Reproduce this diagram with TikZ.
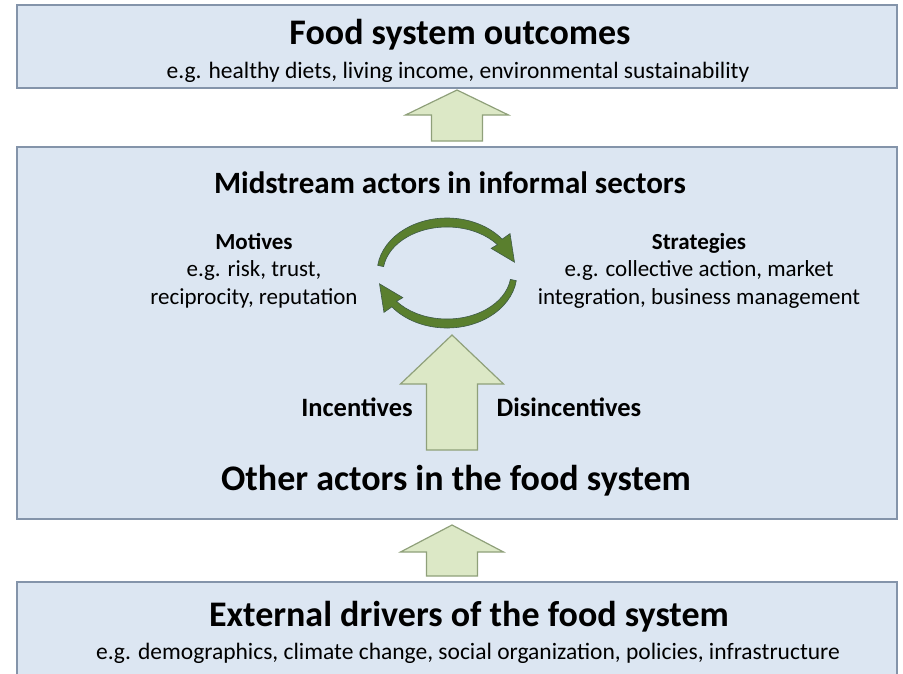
\documentclass[tikz,border=0pt]{standalone}
\usepackage{fontspec}
\setmainfont{Carlito}
\usetikzlibrary{positioning,calc}

\definecolor{panelfill}{HTML}{DCE6F2}
\definecolor{panelline}{HTML}{8494AA}
\definecolor{arrowfill}{HTML}{DCE8C6}
\definecolor{arrowline}{HTML}{8FA07A}
\definecolor{cyclefill}{HTML}{5A7F2E}
\definecolor{cycleline}{HTML}{3E5A48}

% block arrow pointing up: base point, shaft length, head length
\newcommand{\blockup}[3]{%
  \draw[bigarrow] (#1) ++(-25.5,0) -- ++(0,#2) -- ++(-26,0) -- ++(51.5,#3)
    -- ++(51.5,-#3) -- ++(-26,0) -- ++(0,-#2) -- cycle;}

\begin{document}
\begin{tikzpicture}[x=1pt,y=1pt]
    \tikzstyle{panel}=[draw=panelline,fill=panelfill,line width=1.6,rectangle,inner sep=0]
    \tikzstyle{title}=[font=\fontsize{36}{42}\selectfont\bfseries,inner sep=0,anchor=base]
    \tikzstyle{sub}=[font=\fontsize{23.5}{28}\selectfont,inner sep=0,anchor=base]
    \tikzstyle{loop}=[font=\fontsize{23}{27.5}\selectfont,inner sep=0,align=center,anchor=north]
    \tikzstyle{flow}=[font=\fontsize{26.5}{30}\selectfont\bfseries,inner sep=0,anchor=base]
    \tikzstyle{bigarrow}=[draw=arrowline,fill=arrowfill,line width=1.2,line join=miter]
    \tikzstyle{cycle}=[draw=cycleline,fill=cyclefill,line width=0.6]

    \useasboundingbox (0,0) rectangle (903,-673);

    % the three panels
    \node[panel,minimum width=880,minimum height=83] (outcomes) at (457,-46.5) {};
    \node[panel,minimum width=880,minimum height=372] (actors) at (457,-333) {};
    \node[panel,minimum width=880,minimum height=100] (drivers) at (457,-632) {};

    \node[title] (outtitle) at (460,-44) {Food system outcomes};
    \node[sub] (outsub) at (458,-78) {e.g. healthy diets, living income, environmental sustainability};

    \node[title,font=\fontsize{31}{38}\selectfont\bfseries] (midtitle) at (450,-193) {Midstream actors in informal sectors};
    \node[title] (othertitle) at (456,-490) {Other actors in the food system};

    \node[title] (drvtitle) at (469,-626) {External drivers of the food system};
    \node[sub] (drvsub) at (468,-659) {e.g. demographics, climate change, social organization, policies, infrastructure};

    % motives and strategies
    \node[loop] (motives) at (254,-233) {\textbf{Motives}\\e.g. risk, trust,\\reciprocity, reputation};
    \node[loop] (strategies) at (699,-233) {\textbf{Strategies}\\e.g. collective action, market\\integration, business management};

    \node[flow] (incent) at (357,-416) {Incentives};
    \node[flow] (disincent) at (569,-416) {Disincentives};

    % the cycle between motives and strategies
    \coordinate (cyc) at (447,-273);
    \fill[cycle] ($(cyc)+(172:70pt and 55pt)$)
        arc[start angle=172,end angle=38,x radius=70pt,y radius=55pt]
        -- ($(cyc)+(38:80pt and 64pt)$) -- ($(cyc)+(12:69pt and 52pt)$)
        -- ($(cyc)+(38:56pt and 40pt)$) -- ($(cyc)+(38:64pt and 46pt)$)
        arc[start angle=38,end angle=172,x radius=64pt,y radius=46pt] -- cycle;
    \draw[cycle] ($(cyc)+(-8:70pt and 55pt)$)
        arc[start angle=-8,end angle=-142,x radius=70pt,y radius=55pt]
        -- ($(cyc)+(218:80pt and 64pt)$) -- ($(cyc)+(192:69pt and 52pt)$)
        -- ($(cyc)+(218:56pt and 40pt)$) -- ($(cyc)+(218:64pt and 46pt)$)
        arc[start angle=218,end angle=352,x radius=64pt,y radius=46pt] -- cycle;

    % block arrows
    \coordinate (up1) at (457,-141);
    \coordinate (up2) at (452,-450);
    \coordinate (up3) at (452,-576);
    \blockup{up1}{26}{25}
    \blockup{up2}{66}{49}
    \blockup{up3}{24}{27}
\end{tikzpicture}
\end{document}
